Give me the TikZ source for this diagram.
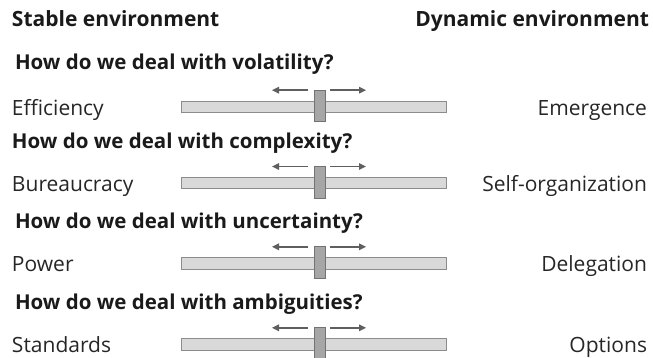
\documentclass[tikz,border=0pt]{standalone}
\usepackage{fontspec}
\setmainfont{Open Sans}
\usetikzlibrary{arrows.meta}
\definecolor{barfill}{HTML}{D9D9D9}
\definecolor{barline}{HTML}{8C8C8C}
\definecolor{knobfill}{HTML}{A6A6A6}
\definecolor{knobline}{HTML}{737373}
\definecolor{arrowgray}{HTML}{5F5F5F}
\definecolor{ink}{HTML}{1A1A1A}
\definecolor{labelink}{HTML}{262626}
\begin{document}
\begin{tikzpicture}[x=1pt,y=-1pt,
  every node/.style={inner sep=0pt,outer sep=0pt,text=ink},
  heading/.style={font=\fontsize{21}{25}\selectfont\bfseries},
  question/.style={anchor=base west,font=\fontsize{20.5}{24}\selectfont\bfseries},
  leftlabel/.style={anchor=base west,text=labelink,font=\fontsize{21}{25}\selectfont},
  rightlabel/.style={anchor=base east,text=labelink,font=\fontsize{21}{25}\selectfont},
  bar/.style={draw=barline,fill=barfill,line width=0.9pt,minimum width=265pt,minimum height=11.3pt},
  knob/.style={draw=knobline,fill=knobfill,line width=0.9pt,minimum width=11pt,minimum height=31.5pt},
  arr/.style={draw=arrowgray,line width=1.4pt,-{Triangle[length=7pt,width=6.5pt]}}
]
\clip (0,0) rectangle (653,358);

% column headings
\node[heading,anchor=base west] (stable) at (12,27) {Stable environment};
\node[heading,anchor=base east] (dynamic) at (649,27) {Dynamic environment};

% questions
\node[question] (q1) at (15,70) {How do we deal with volatility?};
\node[question] (q2) at (12,149) {How do we deal with complexity?};
\node[question] (q3) at (15,229) {How do we deal with uncertainty?};
\node[question] (q4) at (15,309) {How do we deal with ambiguities?};

% slider rows: bar, knob, arrows and both end labels
\foreach \i/\c/\l/\r in {1/106.7/Efficiency/Emergence,
                          2/183/Bureaucracy/Self-organization,
                          3/263.3/Power/Delegation,
                          4/344.3/Standards/Options}{
  \node[bar] (bar\i) at (313.5,\c) {};
  \node[knob] (knob\i) at (319.5,\c-0.75) {};
  \node[leftlabel] (left\i) at (12,\c+8.5) {\l};
  \node[rightlabel] (right\i) at (647,\c+8.5) {\r};
  \draw[arr] (knob\i.north west) ++(-6,0) -- ++(-36,0);
  \draw[arr] (knob\i.north east) ++(5,0) -- ++(36,0);
}
\end{tikzpicture}
\end{document}
